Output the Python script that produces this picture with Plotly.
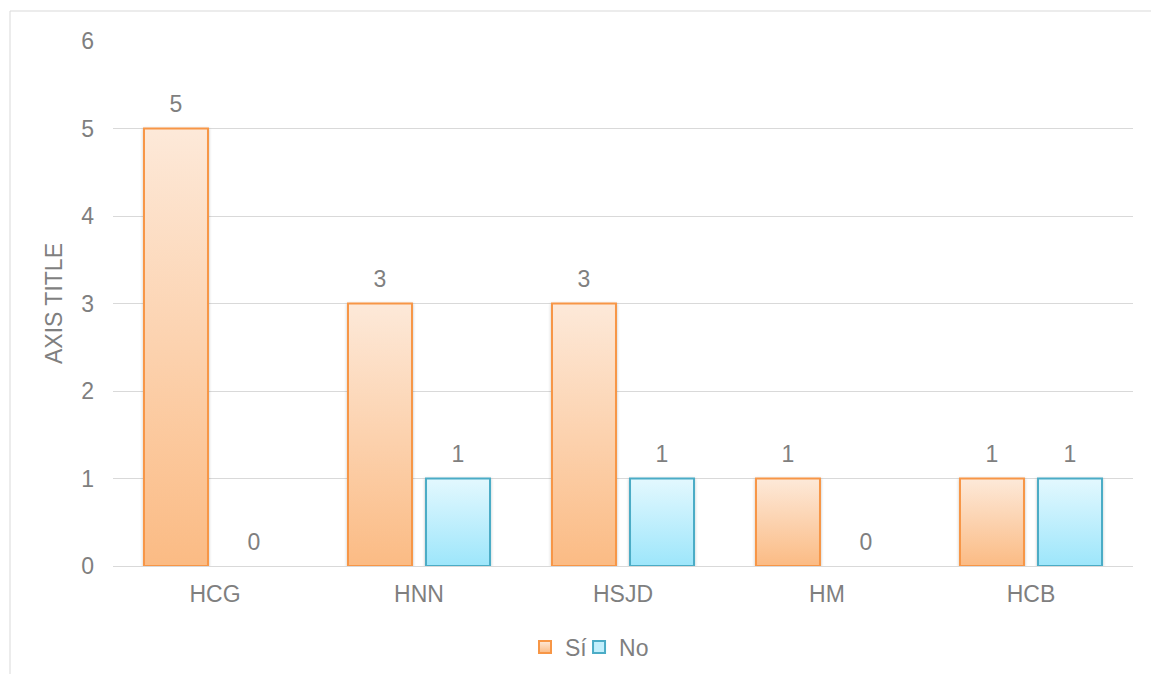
import plotly.graph_objects as go

# Data
categories = ["HCG", "HNN", "HSJD", "HM", "HCB"]
si_values = [5, 3, 3, 1, 1]
no_values = [0, 1, 1, 0, 1]
series_names = ["Sí", "No"]
y_ticks = [0, 1, 2, 3, 4, 5, 6]

TEXT = "#7f7f7f"
GRID = "#d9d9d9"
FONT = "Liberation Sans, Arial, sans-serif"
FS = 23

series = [
    (series_names[0], si_values, "#fcd2b0", "#f79646", "legend"),
    (series_names[1], no_values, "#c2effc", "#4bacc6", "legend2"),
]

fig = go.Figure()
for name, vals, fill, edge, leg in series:
    fig.add_trace(go.Bar(
        name=name, x=categories, y=vals, legend=leg,
        marker=dict(color=fill, line=dict(color=edge, width=2)),
    ))

# Value labels: grouped text points sitting at each bar's top,
# with an invisible marker that lifts the text a little above the bar
for name, vals, fill, edge, leg in series:
    fig.add_trace(go.Scatter(
        x=categories, y=vals, mode="markers+text", text=[str(v) for v in vals],
        textposition="top center", showlegend=False, hoverinfo="skip",
        marker=dict(size=15, opacity=0, color=edge),
        textfont=dict(family=FONT, size=FS, color=TEXT), cliponaxis=False,
    ))

legend_style = dict(orientation="h", xanchor="left", xref="paper",
                    y=1 - 647 / 674, yanchor="middle", yref="container",
                    font=dict(family=FONT, size=FS, color=TEXT), itemwidth=30,
                    bgcolor="rgba(0,0,0,0)")

fig.update_layout(
    width=1151, height=674,
    margin=dict(l=113, r=18, t=41, b=108),
    paper_bgcolor="white", plot_bgcolor="white",
    font=dict(family=FONT, size=FS, color=TEXT),
    barmode="group", bargap=0.235, bargroupgap=0.18,
    scattermode="group", scattergap=0.235,
    showlegend=True,
    legend=dict(x=0.4039, **legend_style),
    legend2=dict(x=0.4569, **legend_style),
    xaxis=dict(showgrid=False, showline=False, zeroline=False, ticks="",
               tickfont=dict(family=FONT, size=FS, color=TEXT), ticklabelstandoff=12),
    yaxis=dict(range=[0, 6], tickvals=y_ticks, showgrid=True, gridcolor=GRID, gridwidth=1,
               zeroline=True, zerolinecolor=GRID, zerolinewidth=1, showline=False, ticks="",
               tickfont=dict(family=FONT, size=FS, color=TEXT), ticklabelstandoff=18,
               title=dict(text="AXIS TITLE", standoff=12,
                          font=dict(family=FONT, size=FS, color=TEXT))),
    shapes=[dict(type="rect", xref="paper", yref="paper",
                 x0=(10 - 113) / 1020, x1=(1170 - 113) / 1020,
                 y0=(566 - 690) / 525, y1=(566 - 11) / 525,
                 line=dict(color=GRID, width=1), fillcolor="rgba(0,0,0,0)", layer="below")],
)

# Vertical gradient fills and a soft shadow for the bars and legend swatches
post = r"""
var gd = document.getElementById('{plot_id}');
var NS = 'http://www.w3.org/2000/svg';
var grads = [['gradSi', '#fde9d9', '#fbbb84'], ['gradNo', '#e3f8fe', '#9de6fb']];
function ensureDefs() {
  var svg = gd.querySelector('.main-svg');
  if (svg.querySelector('#gradSi')) return;
  var defs = document.createElementNS(NS, 'defs');
  grads.forEach(function(g) {
    var lg = document.createElementNS(NS, 'linearGradient');
    lg.setAttribute('id', g[0]);
    lg.setAttribute('x1', '0'); lg.setAttribute('y1', '0');
    lg.setAttribute('x2', '0'); lg.setAttribute('y2', '1');
    [[0, g[1]], [1, g[2]]].forEach(function(s) {
      var st = document.createElementNS(NS, 'stop');
      st.setAttribute('offset', s[0]);
      st.setAttribute('stop-color', s[1]);
      lg.appendChild(st);
    });
    defs.appendChild(lg);
  });
  var f = document.createElementNS(NS, 'filter');
  f.setAttribute('id', 'barShadow');
  f.setAttribute('x', '-20%'); f.setAttribute('y', '-5%');
  f.setAttribute('width', '140%'); f.setAttribute('height', '110%');
  var ds = document.createElementNS(NS, 'feDropShadow');
  ds.setAttribute('dx', '0'); ds.setAttribute('dy', '1');
  ds.setAttribute('stdDeviation', '1.5');
  ds.setAttribute('flood-color', '#000'); ds.setAttribute('flood-opacity', '0.25');
  f.appendChild(ds);
  defs.appendChild(f);
  svg.insertBefore(defs, svg.firstChild);
}
function applyFills() {
  ensureDefs();
  gd.querySelectorAll('.barlayer .trace').forEach(function(tr, i) {
    tr.querySelectorAll('.point path').forEach(function(p) {
      p.style.fill = 'url(#' + grads[i % 2][0] + ')';
      p.setAttribute('filter', 'url(#barShadow)');
    });
  });
  var legs = gd.querySelectorAll('.legend');
  legs.forEach(function(lg) {
    lg.querySelectorAll('.traces').forEach(function(tr) {
      var label = tr.querySelector('.legendtext');
      var idx = (label && label.textContent === 'No') ? 1 : 0;
      tr.querySelectorAll('.legendpoints path').forEach(function(p) {
        p.style.fill = 'url(#' + grads[idx][0] + ')';
      });
    });
  });
}
applyFills();
gd.on('plotly_afterplot', applyFills);
"""

fig.write_html("out.html", post_script=post)
